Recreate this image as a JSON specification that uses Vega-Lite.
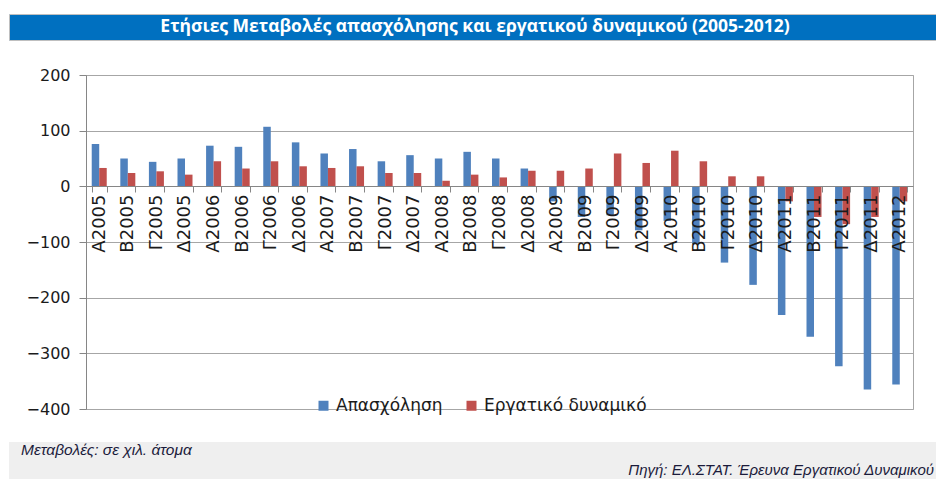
{
  "$schema": "https://vega.github.io/schema/vega-lite/v6.json",
  "background": "white",
  "padding": {"left": 8, "top": 13, "right": 0, "bottom": 0},
  "spacing": 25,
  "config": {"view": {"stroke": null}},
  "vconcat": [
    {
      "width": 928,
      "height": 26,
      "view": {"fill": "#0070c0", "stroke": "#bfbfbf"},
      "data": {"values": [{"t": "Ετήσιες Μεταβολές απασχόλησης και εργατικού δυναμικού (2005-2012)"}]},
      "mark": {"type": "text", "font": "Open Sans", "fontWeight": "bold", "fontSize": 17.5, "color": "white", "dx": 2},
      "encoding": {"text": {"field": "t"}}
    },
    {
      "spacing": 24,
      "vconcat": [
        {
          "bounds": "flush",
          "spacing": 0,
          "hconcat": [
            {
              "width": 77,
              "height": 334,
              "data": {"values": []},
              "mark": "point",
              "encoding": {}
            },
            {
              "width": 827,
              "height": 334,
              "view": {"stroke": "#a6a6a6"},
              "data": {"values": [
                {"period": "Α2005", "series": "Απασχόληση", "value": 76},
                {"period": "Α2005", "series": "Εργατικό δυναμικό", "value": 33},
                {"period": "Β2005", "series": "Απασχόληση", "value": 50},
                {"period": "Β2005", "series": "Εργατικό δυναμικό", "value": 24},
                {"period": "Γ2005", "series": "Απασχόληση", "value": 44},
                {"period": "Γ2005", "series": "Εργατικό δυναμικό", "value": 27},
                {"period": "Δ2005", "series": "Απασχόληση", "value": 50},
                {"period": "Δ2005", "series": "Εργατικό δυναμικό", "value": 21},
                {"period": "Α2006", "series": "Απασχόληση", "value": 73},
                {"period": "Α2006", "series": "Εργατικό δυναμικό", "value": 45},
                {"period": "Β2006", "series": "Απασχόληση", "value": 71},
                {"period": "Β2006", "series": "Εργατικό δυναμικό", "value": 32},
                {"period": "Γ2006", "series": "Απασχόληση", "value": 107},
                {"period": "Γ2006", "series": "Εργατικό δυναμικό", "value": 45},
                {"period": "Δ2006", "series": "Απασχόληση", "value": 79},
                {"period": "Δ2006", "series": "Εργατικό δυναμικό", "value": 36},
                {"period": "Α2007", "series": "Απασχόληση", "value": 59},
                {"period": "Α2007", "series": "Εργατικό δυναμικό", "value": 33},
                {"period": "Β2007", "series": "Απασχόληση", "value": 67},
                {"period": "Β2007", "series": "Εργατικό δυναμικό", "value": 36},
                {"period": "Γ2007", "series": "Απασχόληση", "value": 45},
                {"period": "Γ2007", "series": "Εργατικό δυναμικό", "value": 24},
                {"period": "Δ2007", "series": "Απασχόληση", "value": 56},
                {"period": "Δ2007", "series": "Εργατικό δυναμικό", "value": 24},
                {"period": "Α2008", "series": "Απασχόληση", "value": 50},
                {"period": "Α2008", "series": "Εργατικό δυναμικό", "value": 10},
                {"period": "Β2008", "series": "Απασχόληση", "value": 62},
                {"period": "Β2008", "series": "Εργατικό δυναμικό", "value": 21},
                {"period": "Γ2008", "series": "Απασχόληση", "value": 50},
                {"period": "Γ2008", "series": "Εργατικό δυναμικό", "value": 16},
                {"period": "Δ2008", "series": "Απασχόληση", "value": 32},
                {"period": "Δ2008", "series": "Εργατικό δυναμικό", "value": 28},
                {"period": "Α2009", "series": "Απασχόληση", "value": -27},
                {"period": "Α2009", "series": "Εργατικό δυναμικό", "value": 28},
                {"period": "Β2009", "series": "Απασχόληση", "value": -55},
                {"period": "Β2009", "series": "Εργατικό δυναμικό", "value": 32},
                {"period": "Γ2009", "series": "Απασχόληση", "value": -52},
                {"period": "Γ2009", "series": "Εργατικό δυναμικό", "value": 59},
                {"period": "Δ2009", "series": "Απασχόληση", "value": -79},
                {"period": "Δ2009", "series": "Εργατικό δυναμικό", "value": 42},
                {"period": "Α2010", "series": "Απασχόληση", "value": -62},
                {"period": "Α2010", "series": "Εργατικό δυναμικό", "value": 64},
                {"period": "Β2010", "series": "Απασχόληση", "value": -104},
                {"period": "Β2010", "series": "Εργατικό δυναμικό", "value": 45},
                {"period": "Γ2010", "series": "Απασχόληση", "value": -137},
                {"period": "Γ2010", "series": "Εργατικό δυναμικό", "value": 18},
                {"period": "Δ2010", "series": "Απασχόληση", "value": -177},
                {"period": "Δ2010", "series": "Εργατικό δυναμικό", "value": 18},
                {"period": "Α2011", "series": "Απασχόληση", "value": -231},
                {"period": "Α2011", "series": "Εργατικό δυναμικό", "value": -27},
                {"period": "Β2011", "series": "Απασχόληση", "value": -270},
                {"period": "Β2011", "series": "Εργατικό δυναμικό", "value": -55},
                {"period": "Γ2011", "series": "Απασχόληση", "value": -323},
                {"period": "Γ2011", "series": "Εργατικό δυναμικό", "value": -68},
                {"period": "Δ2011", "series": "Απασχόληση", "value": -365},
                {"period": "Δ2011", "series": "Εργατικό δυναμικό", "value": -55},
                {"period": "Α2012", "series": "Απασχόληση", "value": -356},
                {"period": "Α2012", "series": "Εργατικό δυναμικό", "value": -27}
              ]},
              "mark": {"type": "bar"},
              "encoding": {
                "x": {
                  "field": "period", "type": "nominal", "sort": null,
                  "scale": {"paddingInner": 0.475, "paddingOuter": 0.2},
                  "axis": {
                    "title": null, "orient": "bottom", "offset": -223, "labelAngle": -90,
                    "labelFont": "DejaVu Sans", "labelFontSize": 18, "labelColor": "#1b1b1b",
                    "tickBand": "extent", "tickSize": 6, "labelPadding": 2,
                    "domainColor": "#868686", "tickColor": "#868686", "zindex": 1, "grid": false
                  }
                },
                "xOffset": {"field": "series", "sort": ["Απασχόληση", "Εργατικό δυναμικό"], "scale": {"paddingInner": 0, "paddingOuter": 0}},
                "y": {
                  "field": "value", "type": "quantitative",
                  "scale": {"domain": [-400, 200], "nice": false},
                  "axis": {
                    "title": null, "values": [-400, -300, -200, -100, 0, 100, 200],
                    "tickSize": 7, "labelPadding": 9, "labelFont": "DejaVu Sans", "labelFontSize": 16,
                    "labelColor": "#1b1b1b", "domainColor": "#868686", "tickColor": "#868686",
                    "grid": true, "gridColor": "#a6a6a6"
                  }
                },
                "color": {
                  "field": "series", "type": "nominal",
                  "scale": {"domain": ["Απασχόληση", "Εργατικό δυναμικό"], "range": ["#4f81bd", "#c0504d"]},
                  "legend": {
                    "orient": "none", "legendX": 306, "legendY": 383, "direction": "horizontal",
                    "title": null, "symbolType": "square", "symbolSize": 100, "symbolStrokeWidth": 0,
                    "labelFont": "DejaVu Sans", "labelFontSize": 17, "labelColor": "#1b1b1b",
                    "labelLimit": 0, "columnPadding": 20, "labelOffset": 4
                  }
                }
              }
            }
          ]
        },
        {
          "bounds": "flush",
          "spacing": 0,
          "hconcat": [
            {
              "width": 464,
              "height": 45,
              "view": {"fill": "#efefef", "stroke": null},
              "title": {"text": "Μεταβολές: σε χιλ. άτομα", "anchor": "start", "orient": "top", "offset": -23, "baseline": "middle", "dx": 12, "font": "Liberation Sans", "fontStyle": "italic", "fontWeight": "normal", "fontSize": 15.5, "color": "#1b1b3b", "frame": "group"},
              "data": {"values": []},
              "mark": "point",
              "encoding": {}
            },
            {
              "width": 464,
              "height": 45,
              "view": {"fill": "#efefef", "stroke": null},
              "title": {"text": "Πηγή: ΕΛ.ΣΤΑΤ. Έρευνα Εργατικού Δυναμικού", "anchor": "end", "orient": "top", "offset": -43, "baseline": "middle", "dx": -3, "font": "Liberation Sans", "fontStyle": "italic", "fontWeight": "normal", "fontSize": 15, "color": "#1b1b3b", "frame": "group"},
              "data": {"values": []},
              "mark": "point",
              "encoding": {}
            }
          ]
        }
      ]
    }
  ]
}
